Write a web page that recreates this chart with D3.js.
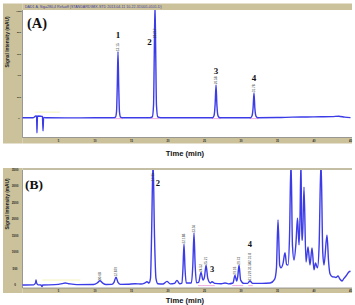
<!DOCTYPE html>
<html><head><meta charset="utf-8">
<script src="https://cdn.jsdelivr.net/npm/d3@7"></script>
<style>body{margin:0;background:#fff}svg{display:block}</style>
</head><body>
<svg id="c" width="355" height="305"></svg>
<script>
// ---------- DATA ----------
const xTicks = [5,10,15,20,25,30,35,40,45];
const yTicksA = [0,200,400,600,800,1000];
const yTicksB = [0,500,1000,1500,2000,2500,3000,3500];
const titleA = "DAD1 A, Sig=280,4 Ref=off (STANDARD\\MIX-STD 2013-04-11 10-22-31\\001-0101.D)";
const yTitle = "Signal Intensity (mAU)";
const xTitle = "Time (min)";

// trace A: [time (min), signal (mAU)]
const traceA = [
 [0,2],[1.5,2],[1.9,18],[2.0,18],[2.05,-140],[2.12,18],[2.6,16],[2.8,14],[2.88,-120],[2.96,5],[3.3,2],
 [6,1],[10,2],[12.5,2],[12.8,8],[12.95,60],[13.05,300],[13.15,620],[13.25,300],[13.35,60],[13.5,8],[13.8,2],
 [17.5,2],[17.85,10],[18.02,120],[18.12,600],[18.22,1060],[18.32,600],[18.42,120],[18.6,10],[19,2],
 [26.1,3],[26.3,20],[26.45,120],[26.58,310],[26.7,120],[26.85,20],[27.1,3],
 [31.3,3],[31.5,18],[31.65,90],[31.78,235],[31.9,90],[32.05,18],[32.3,3],
 [35,4],[37,8],[39,10],[41,11],[42.5,13],[43.4,17],[44.2,8],[45,3]
];
const peaksA = [["1",13.15,745],["2",17.45,682],["3",26.58,412],["4",31.78,345]];
const retA = [[13.15,620,"13.15"],[18.22,740,"18.217"],[26.58,310,"26.58"],[31.78,235,"31.78"]];

// trace B
const traceB = [
 [0,0],[1.6,5],[1.85,60],[1.92,150],[2.0,60],[2.2,5],[2.6,0],[2.74,-50],[2.85,0],[4.5,10],[5.5,40],[5.9,60],[6.4,40],[7.5,10],
 [9.8,15],[10.3,60],[10.68,130],[11.05,60],[11.5,15],[12.3,20],[12.6,80],[12.88,240],[13.15,80],[13.5,20],
 [14.5,25],[15.5,40],[16.3,30],[16.8,60],[17.12,100],[17.4,60],[17.6,200],[17.75,1500],[17.95,3800],[18.15,1500],[18.35,200],[18.6,40],
 [19.3,30],[19.86,110],[20.3,35],[20.9,50],[21.23,140],[21.6,40],[21.9,60],[22.05,500],[22.19,1250],[22.33,500],[22.5,60],
 [23.2,60],[23.4,600],[23.56,1580],[23.72,600],[23.9,70],[24.2,80],[24.52,380],[24.8,150],[25.0,250],[25.21,600],[25.45,200],
 [25.8,60],[26.03,100],[26.4,50],[27.3,40],[27.81,60],[28.3,35],[28.9,60],[29.18,300],[29.4,120],[29.55,250],[29.73,600],[29.95,150],
 [30.4,50],[30.9,50],[31.23,120],[31.6,50],[32.88,50],[34.0,60],[34.6,170],[34.85,500],[35.07,1980],[35.3,600],[35.48,520],
 [35.75,650],[36.03,980],[36.25,620],[36.44,610],[36.65,1500],[36.85,3800],[37.05,1200],[37.26,760],[37.53,1280],[37.74,2040],
 [37.95,1220],[38.08,2000],[38.22,3800],[38.32,1370],[38.42,1370],[38.63,2980],[38.9,700],[39.18,1160],[39.45,610],[39.73,1130],
 [40.0,460],[40.2,670],[40.48,520],[40.7,1200],[40.96,3800],[41.2,1000],[41.37,610],[41.78,1520],[42.0,700],[42.19,340],
 [42.5,250],[42.74,245],[43.0,230],[43.29,275],[43.55,180],[43.84,122],[44.1,200],[44.38,275],[44.79,400],[45,420]
];
const peaksB = [["2",18.63,3013],["3",26.03,396],["4",31.23,1157]];
const retB = [[10.68,130,"10.68"],[12.88,240,"12.879"],[17.95,3150,"17.95"],[22.19,1250,"22.188"],[23.56,1580,"23.56"],
 [24.52,380,"24.52"],[25.21,600,"25.21"],[29.18,300,"29.18"],[29.73,600,"29.73"],[31.23,120,"31.229 31.502 31.8"]];
const pinkA = [[12.6,13.8],[17.6,18.8],[26.0,27.2],[31.2,32.4]];
const pinkB = [[24.1,26.4],[28.8,30.3],[31.0,31.6]];

// ---------- DRAW ----------
const svg = d3.select("#c");
const beige = "#cbc29c", blue = "#3b3be8";
const x = d3.scaleLinear().domain([0,45]).range([22,350.5]);

function panel(o){
  const g = svg.append("g");
  g.append("rect").attr("x",3).attr("y",o.frameTop).attr("width",19.5).attr("height",o.frameBot-o.frameTop).attr("fill",beige);
  g.append("rect").attr("x",22.5).attr("y",o.frameTop).attr("width",329.5).attr("height",o.top-o.frameTop).attr("fill",o.topFill);
  g.append("rect").attr("x",22.5).attr("y",o.bot).attr("width",329.5).attr("height",o.frameBot-o.bot).attr("fill",beige);
  g.append("path").attr("d",`M22.5,${o.top}V${o.bot}H352`).attr("fill","none").attr("stroke","#777").attr("stroke-width",0.7);
  const y = d3.scaleLinear().domain(o.ydom).range([o.y0,o.y1]);
  const cid = "clip"+o.id;
  svg.append("clipPath").attr("id",cid).append("rect").attr("x",22.5).attr("y",o.top).attr("width",329).attr("height",o.bot-o.top);
  const pg = g.append("g").attr("clip-path",`url(#${cid})`);
  pg.append("line").attr("x1",x(o.yel[0])).attr("x2",x(o.yel[1])).attr("y1",y(o.yel[2])).attr("y2",y(o.yel[2]))
    .attr("stroke","#f2f0a8").attr("stroke-width",0.8);
  o.pink.forEach(p=>pg.append("line").attr("x1",x(p[0])).attr("x2",x(p[1])).attr("y1",y(0)+0.6).attr("y2",y(0)+0.6)
    .attr("stroke","#e57bd0").attr("stroke-width",0.9).attr("opacity",0.7));
  const line = d3.line().x(d=>x(d[0])).y(d=>y(d[1])).curve(d3.curveMonotoneX);
  pg.append("path").datum(o.trace).attr("d",line).attr("fill","none").attr("stroke",blue).attr("stroke-width",1.4).attr("stroke-linejoin","round");
  o.ret.forEach(r=>{
    g.append("text").attr("transform",`translate(${x(r[0])+1.1},${y(r[1])-0.5}) rotate(-90)`)
     .attr("font-family","Liberation Sans, Arial").attr("font-size",3.2).attr("fill","#333").text(r[2]);
  });
  o.peaks.forEach(p=>{
    g.append("text").attr("x",x(p[1])).attr("y",y(p[2])).attr("text-anchor","middle")
     .attr("font-family","Liberation Serif, Times New Roman, serif").attr("font-weight","bold").attr("font-size",o.pfs).attr("fill","#111").text(p[0]);
  });
  g.append("text").attr("x",o.lx).attr("y",o.ly).attr("font-family","Liberation Serif, Times New Roman, serif")
   .attr("font-weight","bold").attr("font-size",o.lfs).attr("fill","#111").text(o.letter);
  o.yt.forEach(t=>{
    g.append("text").attr("x",o.ytx).attr("y",y(t)+1).attr("text-anchor","middle").attr("font-family","Liberation Sans, Arial")
     .attr("font-weight","bold").attr("font-size",o.ytfs).attr("fill","#222").text(t);
  });
  xTicks.forEach(t=>{
    g.append("text").attr("x",x(t)).attr("y",(o.bot+o.frameBot)/2+1).attr("text-anchor","middle").attr("font-family","Liberation Sans, Arial")
     .attr("font-weight","bold").attr("font-size",2.6).attr("fill","#222").text(t);
  });
  g.append("text").attr("transform",`translate(9,${o.ytc}) rotate(-90)`).attr("text-anchor","middle")
   .attr("font-family","Liberation Sans, Arial").attr("font-weight","bold").attr("font-size",4.8).attr("fill","#222").text(yTitle);
  g.append("text").attr("x",185).attr("y",o.xty).attr("text-anchor","middle").attr("font-family","Liberation Sans, Arial")
   .attr("font-weight","bold").attr("font-size",7.6).attr("fill","#111").text(xTitle);
  return g;
}

const gA = panel({id:"A",frameTop:3.5,top:10,bot:137.5,frameBot:143.5,topFill:beige,ydom:[0,1000],y0:118,y1:11,
  trace:traceA,peaks:peaksA,ret:retA,pink:pinkA,yel:[1.8,5.2,55],pfs:9,letter:"(A)",lx:27,ly:28,lfs:14.5,
  yt:yTicksA,ytx:19,ytfs:2.4,ytc:42,xty:155.5});
gA.append("text").attr("x",25).attr("y",8.3).attr("font-family","Liberation Sans, Arial").attr("font-size",3.6)
  .attr("fill","#3a3aa0").text(titleA);

panel({id:"B",frameTop:168,top:170,bot:288,frameBot:293,topFill:"#c4bea4",ydom:[0,3500],y0:285,y1:170,
  trace:traceB,peaks:peaksB,ret:retB,pink:pinkB,yel:[2.8,8.0,150],pfs:8.5,letter:"(B)",lx:25,ly:189,lfs:13.5,
  yt:yTicksB,ytx:15,ytfs:3,ytc:204,xty:302.5});
</script>
</body></html>
